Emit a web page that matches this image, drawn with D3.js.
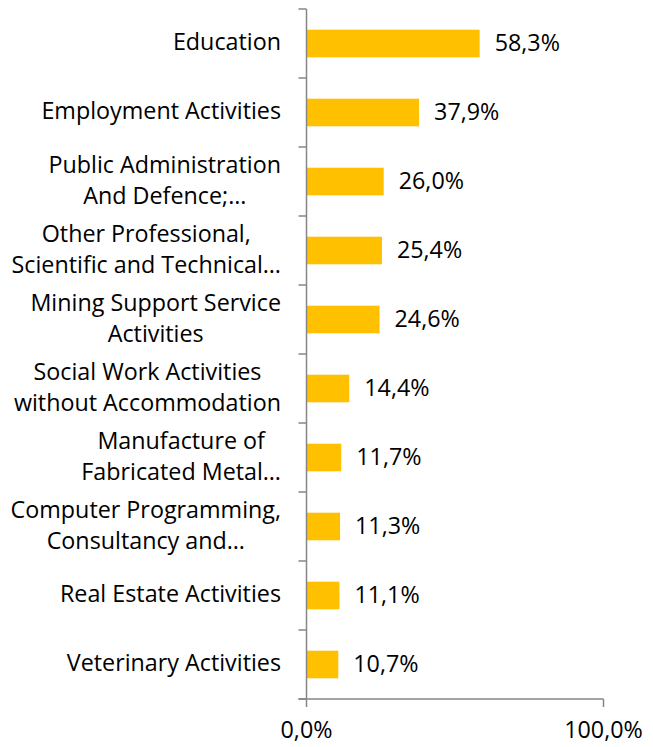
<!DOCTYPE html>
<html><head><meta charset="utf-8">
<script src="https://cdn.jsdelivr.net/npm/d3@7"></script>
<style>body{margin:0;background:#fff}text{font-family:"Open Sans",sans-serif;fill:#000}</style>
</head><body>
<svg id="c" width="653" height="747"></svg>
<script>
const categories = [
  ["Education"],
  ["Employment Activities"],
  ["Public Administration", "And Defence;…"],
  ["Other Professional,", "Scientific and Technical…"],
  ["Mining Support Service", "Activities"],
  ["Social Work Activities", "without Accommodation"],
  ["Manufacture of", "Fabricated Metal…"],
  ["Computer Programming,", "Consultancy and…"],
  ["Real Estate Activities"],
  ["Veterinary Activities"]
];
const values = [58.3, 37.9, 26.0, 25.4, 24.6, 14.4, 11.7, 11.3, 11.1, 10.7];
const xTicks = [0, 100];

const svg = d3.select("#c");
const fs = 23.3;
const fmt = v => v.toFixed(1).replace(".", ",") + "%";
const keys = categories.map((c, i) => i);
const x = d3.scaleLinear().domain([0, 100]).range([306.5, 603.5]);
const y = d3.scaleBand().domain(keys).range([9, 699]).paddingInner(0.6).paddingOuter(0.3);
const step = y.step();

// bars
svg.selectAll("rect.bar").data(values).join("rect")
  .attr("x", x(0)).attr("y", (d, i) => y(i))
  .attr("width", d => x(d) - x(0)).attr("height", y.bandwidth())
  .attr("fill", "#FFC000");

// value labels
svg.selectAll("text.val").data(values).join("text")
  .attr("x", d => x(d) + 15).attr("y", (d, i) => y(i) + y.bandwidth() / 2 - 0.5)
  .attr("dy", "0.36em").attr("font-size", fs).text(d => fmt(d));

// axes
const axisColor = "#868686";
const yTop = 9, yBot = 699;
svg.append("line").attr("x1", x(0)).attr("x2", x(0)).attr("y1", yTop).attr("y2", yBot)
  .attr("stroke", axisColor).attr("stroke-width", 1.5);
for (let i = 0; i <= categories.length; i++) {
  const yy = yTop + i * step;
  svg.append("line").attr("x1", x(0) - 8).attr("x2", x(0)).attr("y1", yy).attr("y2", yy)
    .attr("stroke", axisColor).attr("stroke-width", 1.5);
}
svg.append("line").attr("x1", x(0) - 8).attr("x2", x(100)).attr("y1", yBot).attr("y2", yBot)
  .attr("stroke", axisColor).attr("stroke-width", 1.5);
xTicks.forEach(t => {
  svg.append("line").attr("x1", x(t)).attr("x2", x(t)).attr("y1", yBot).attr("y2", yBot + 8)
    .attr("stroke", axisColor).attr("stroke-width", 1.5);
  svg.append("text").attr("x", x(t)).attr("y", 730).attr("text-anchor", "middle")
    .attr("dy", "0.36em").attr("font-size", fs).text(fmt(t));
});

// category labels
const rightEdge = 281;
const lh = 31;
categories.forEach((lines, i) => {
  const cy = y(i) + y.bandwidth() / 2 - 1.5;
  const g = svg.append("g");
  const ts = lines.map((ln, j) => g.append("text").attr("font-size", fs).attr("dy", "0.36em")
    .attr("y", cy + (j - (lines.length - 1) / 2) * lh).attr("text-anchor", "middle").text(ln));
  const w = d3.max(ts, t => t.node().getComputedTextLength());
  ts.forEach(t => t.attr("x", rightEdge - w / 2));
});
</script>
</body></html>
